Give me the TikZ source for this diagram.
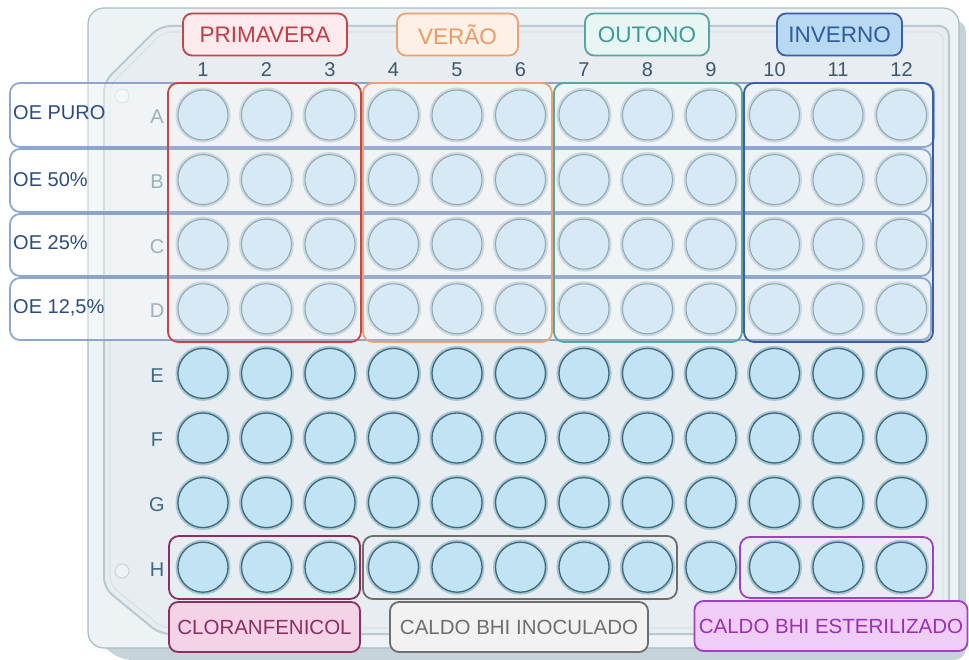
\documentclass[tikz,border=0pt]{standalone}
\usepackage{fontspec}
\setmainfont{Liberation Sans}
\definecolor{plateedge}{HTML}{A9BCC4}
\definecolor{platefill}{HTML}{EDF2F4}
\definecolor{plateinner}{HTML}{E7EDF0}
\definecolor{skirt}{HTML}{C6D4D9}
\definecolor{band}{HTML}{7B98C6}
\definecolor{bandtxt}{HTML}{2B4C7E}
\definecolor{colnum}{HTML}{3C5870}
\definecolor{rowlt}{HTML}{9FB0BC}
\definecolor{rowdk}{HTML}{3B6A88}
\definecolor{wAfill}{HTML}{D7E9F5}
\definecolor{wAedge}{HTML}{8EA6B2}
\definecolor{wAhalo}{HTML}{CCD9DF}
\definecolor{wEfill}{HTML}{C2E3F4}
\definecolor{wEedge}{HTML}{3E6A7C}
\definecolor{wEhalo}{HTML}{A8C6D2}
\definecolor{prtx}{HTML}{C23B45}\definecolor{prln}{HTML}{C4454A}\definecolor{prbg}{HTML}{FDEAEC}
\definecolor{vetx}{HTML}{EB9A62}\definecolor{veln}{HTML}{EBA274}\definecolor{vebg}{HTML}{FDF1E7}
\definecolor{outx}{HTML}{3D9C98}\definecolor{ouln}{HTML}{5AA5A2}\definecolor{oubg}{HTML}{E8F6F3}
\definecolor{intx}{HTML}{2F5C9A}\definecolor{inln}{HTML}{3A5EA8}\definecolor{inbg}{HTML}{B9D8F1}
\definecolor{cltx}{HTML}{8B2E62}\definecolor{clbg}{HTML}{F5D3E6}
\definecolor{grtx}{HTML}{6E6E6E}\definecolor{grbg}{HTML}{F2F2F2}
\definecolor{putx}{HTML}{9A2FB5}\definecolor{puln}{HTML}{A040C4}\definecolor{pubg}{HTML}{F0CDF7}
\tikzset{
  wellA/.style={circle, minimum size=50pt, inner sep=0pt, fill=wAfill, draw=wAedge, line width=1pt,
    preaction={draw=wAhalo, line width=5pt}},
  wellE/.style={circle, minimum size=50pt, inner sep=0pt, fill=wEfill, draw=wEedge, line width=1.3pt,
    preaction={draw=wEhalo, line width=5pt}},
  rowband/.style={draw=band, draw opacity=0.85, line width=1.8pt, fill=white, fill opacity=0.4, rounded corners=10pt},
  grp/.style={line width=1.8pt, rounded corners=10pt},
  lbl/.style={rounded corners=9pt, line width=1.8pt, inner sep=0pt, font=\fontsize{22.5}{26}\selectfont},
  blbl/.style={rounded corners=9pt, line width=1.8pt, inner sep=0pt, minimum height=50pt, font=\fontsize{20.5}{24}\selectfont},
  colno/.style={text=colnum, font=\fontsize{20}{24}\selectfont, inner sep=0pt},
  rowno/.style={font=\fontsize{20}{24}\selectfont, inner sep=0pt},
  bandlbl/.style={text=bandtxt, anchor=west, font=\fontsize{20}{24}\selectfont, inner sep=0pt},
  hole/.style={circle, minimum size=14pt, inner sep=0pt, draw=plateedge!70, fill=platefill, line width=0.8pt}
}
\begin{document}
\begin{tikzpicture}[x=1pt,y=-1pt]
\useasboundingbox (0,0) rectangle (969,660);
% plate
\fill[skirt] (100,20) [rounded corners=12pt] -- (966,20) -- (966,660) -- (120,660) -- (96,640) -- cycle;
\draw[plateedge, line width=1.2pt, fill=platefill, rounded corners=16pt] (88,8) rectangle (959,648);
\draw[plateedge!80, line width=2pt, fill=plateinner, rounded corners=10pt]
  (160,26) -- (949,26) -- (949,634) -- (160,634) -- (104,588) -- (104,82) -- cycle;
\draw[plateedge!45, line width=1.2pt, rounded corners=8pt]
  (163,32) -- (943,32) -- (943,628) -- (163,628) -- (110,585) -- (110,85) -- cycle;
\node[hole] (h1) at (122,96) {};
\node[hole] (h2) at (122,571) {};
% row bands
\draw[rowband] (10,83) rectangle (934,147);
\draw[rowband] (10,149) rectangle (931,212);
\draw[rowband] (10,214) rectangle (931,276);
\draw[rowband] (10,278) rectangle (931,340);
\node[bandlbl] (oe1) at (13,113) {OE PURO};
\node[bandlbl] (oe2) at (13,180) {OE 50\%};
\node[bandlbl] (oe3) at (13,243) {OE 25\%};
\node[bandlbl] (oe4) at (13,308) {OE 12,5\%};
% season groups
\draw[grp, draw=prln, fill=prbg, fill opacity=0.12] (168,83) rectangle (361,342);
\draw[grp, draw=veln, fill=vebg, fill opacity=0.12] (363,83) rectangle (552,342);
\draw[grp, draw=ouln, fill=oubg, fill opacity=0.12] (554,83) rectangle (742,342);
\draw[grp, draw=inln, fill=inbg, fill opacity=0.06] (744,83) rectangle (933,342);
% bottom groups
\draw[grp, draw=cltx] (169,536) rectangle (360,599);
\draw[grp, draw=grtx] (363,536) rectangle (677,599);
\draw[grp, draw=puln] (740,537) rectangle (933,598);
% wells
\foreach \i in {1,...,12}{
  \foreach \j in {0,...,3}{
    \node[wellA] (w\j-\i) at ({203+(\i-1)*63.5},{115+\j*64.6}) {};
  }
  \foreach \j in {4,...,7}{
    \node[wellE] (w\j-\i) at ({203+(\i-1)*63.5},{115+\j*64.6}) {};
  }
  \node[colno] (c\i) at ({203+(\i-1)*63.5},70) {\i};
}
\foreach \L [count=\j from 0] in {A,B,C,D}{
  \node[rowno, text=rowlt] (r\L) at (157,{117+\j*64.6}) {\L};
}
\foreach \L [count=\j from 4] in {E,F,G,H}{
  \node[rowno, text=rowdk] (r\L) at (157,{117+\j*64.6}) {\L};
}
% season labels
\node[lbl, draw=prln, fill=prbg, text=prtx, minimum width=164pt, minimum height=42pt] (prim) at (265,34.5) {PRIMAVERA};
\node[lbl, draw=veln, fill=vebg, text=vetx, minimum width=121pt, minimum height=42pt] (ver) at (457.5,34.5) {VERÃO};
\node[lbl, draw=ouln, fill=oubg, text=outx, minimum width=124pt, minimum height=42pt] (out) at (647,34.5) {OUTONO};
\node[lbl, draw=inln, fill=inbg, text=intx, minimum width=125pt, minimum height=42pt] (inv) at (839.5,34.5) {INVERNO};
% bottom labels
\node[blbl, draw=cltx, fill=clbg, text=cltx, minimum width=191pt] (clo) at (264.5,627) {CLORANFENICOL};
\node[blbl, draw=grtx, fill=grbg, text=grtx, minimum width=258pt] (ino) at (519,627) {CALDO BHI INOCULADO};
\node[blbl, draw=puln, fill=pubg, text=putx, minimum width=273pt] (est) at (831,626) {CALDO BHI ESTERILIZADO};
\end{tikzpicture}
\end{document}
